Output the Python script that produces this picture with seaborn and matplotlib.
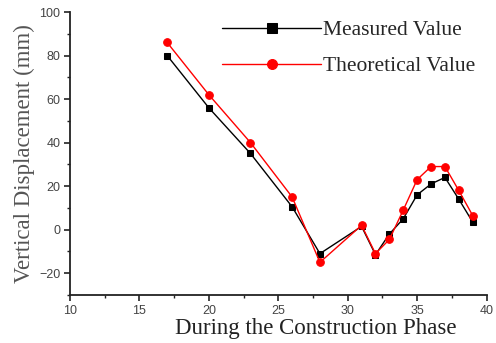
import matplotlib
matplotlib.use("Agg")
import matplotlib.pyplot as plt
import seaborn as sns
import pandas as pd
from matplotlib.ticker import MultipleLocator

sns.set_style("ticks")
plt.rcParams['font.family'] = ['Liberation Sans', 'DejaVu Sans']

# Data
phase = [17, 20, 23, 26, 28, 31, 32, 33, 34, 35, 36, 37, 38, 39]
measured = [80, 56, 35, 10.5, -11, 1.5, -11.5, -2, 5, 16, 21, 24, 14, 3.5]
theoretical = [86, 62, 40, 15, -15, 2, -11, -4.5, 9, 23, 29, 29, 18, 6.5]

df = pd.DataFrame({"phase": phase, "measured": measured, "theoretical": theoretical})

fig = plt.figure(figsize=(4.96, 3.43), dpi=100)
ax = fig.add_axes([0.141, 0.14, 0.840, 0.825])

sns.lineplot(data=df, x="phase", y="measured", ax=ax, color="black", marker="s",
             markersize=5, markeredgecolor="black", linewidth=1, label="Measured Value")
sns.lineplot(data=df, x="phase", y="theoretical", ax=ax, color="red", marker="o",
             markersize=5.5, markeredgecolor="red", linewidth=1, label="Theoretical Value")

ax.set_xlim(10, 40)
ax.set_ylim(-30, 100)
ax.xaxis.set_major_locator(MultipleLocator(5))
ax.xaxis.set_minor_locator(MultipleLocator(2.5))
ax.yaxis.set_major_locator(MultipleLocator(20))
ax.yaxis.set_minor_locator(MultipleLocator(10))
ax.tick_params(axis='both', which='major', length=4, width=1.2, labelsize=9,
               colors='#222222', labelcolor='#444444', pad=3)
ax.tick_params(axis='both', which='minor', length=2.5, width=1, colors='#222222')
sns.despine(ax=ax)
for s in ['left', 'bottom']:
    ax.spines[s].set_linewidth(1.3)
    ax.spines[s].set_color('#222222')

ax.set_xlabel("During the Construction Phase", family='Liberation Serif', fontsize=16.5,
              color='#222222')
ax.xaxis.set_label_coords(0.59, -0.08, transform=ax.transAxes)
ax.xaxis.label.set_va('top')
ax.set_ylabel("Vertical Displacement (mm)", family='Liberation Serif', fontsize=16.5,
              color='#555555', labelpad=3)

leg = ax.legend(loc='upper right', bbox_to_anchor=(1.02, 1.04), frameon=False, handlelength=4.6,
                labelspacing=0.75, handletextpad=0.1, markerscale=1.3,
                prop={'family': 'Liberation Serif', 'size': 15.5})

fig.savefig("out.png", dpi=100)
